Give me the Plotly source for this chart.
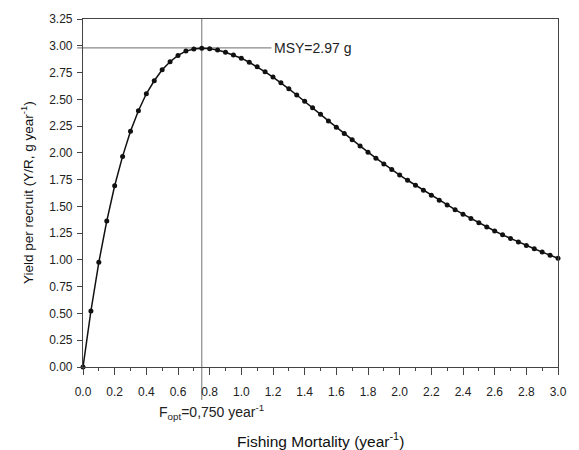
import plotly.graph_objects as go

# Fishing mortality (year^-1)
F = [0.00, 0.05, 0.10, 0.15, 0.20, 0.25, 0.30, 0.35, 0.40, 0.45,
     0.50, 0.55, 0.60, 0.65, 0.70, 0.75, 0.80, 0.85, 0.90, 0.95,
     1.00, 1.05, 1.10, 1.15, 1.20, 1.25, 1.30, 1.35, 1.40, 1.45,
     1.50, 1.55, 1.60, 1.65, 1.70, 1.75, 1.80, 1.85, 1.90, 1.95,
     2.00, 2.05, 2.10, 2.15, 2.20, 2.25, 2.30, 2.35, 2.40, 2.45,
     2.50, 2.55, 2.60, 2.65, 2.70, 2.75, 2.80, 2.85, 2.90, 2.95, 3.00]

# Yield per recruit (g year^-1)
YR = [0.000, 0.523, 0.978, 1.363, 1.693, 1.967, 2.201, 2.393, 2.552, 2.673,
      2.776, 2.851, 2.910, 2.950, 2.969, 2.976, 2.972, 2.960, 2.939, 2.913,
      2.884, 2.846, 2.803, 2.757, 2.708, 2.655, 2.598, 2.540, 2.482, 2.420,
      2.360, 2.298, 2.238, 2.180, 2.122, 2.064, 2.006, 1.950, 1.896, 1.844,
      1.793, 1.744, 1.697, 1.650, 1.604, 1.558, 1.513, 1.469, 1.427, 1.386,
      1.346, 1.307, 1.270, 1.234, 1.200, 1.167, 1.135, 1.104, 1.073, 1.044, 1.016]

F_OPT = 0.75
MSY_LINE = 2.98
MSY_LABEL = "MSY=2.97 g"
FOPT_LABEL = "F<sub>opt</sub>=0,750 year<sup>-1</sup>"
X_TITLE = "Fishing Mortality (year<sup>-1</sup>)"
Y_TITLE = "Yield per recruit (Y/R, g year<sup>-1</sup>)"

FONT = "Liberation Sans, Arial, sans-serif"

fig = go.Figure()
fig.add_trace(go.Scatter(
    x=F, y=YR, mode="lines+markers",
    line=dict(color="#111111", width=1.5),
    marker=dict(color="#111111", size=5),
    cliponaxis=False, showlegend=False,
))

W, H = 579, 450
L, R, T, B = 83, 12, 19, 83
pw = W - L - R
ph = H - T - B

# reference lines
fig.add_shape(type="line", xref="x", yref="paper",
              x0=F_OPT, x1=F_OPT, y0=-(400 - 367) / ph, y1=1,
              line=dict(color="#8a8a8a", width=1.2), layer="below")
fig.add_shape(type="line", xref="paper", yref="y",
              x0=-6 / pw, x1=(275 - L) / pw, y0=MSY_LINE, y1=MSY_LINE,
              line=dict(color="#8a8a8a", width=1.2), layer="below")

fig.add_annotation(xref="paper", yref="y", x=(276 - L) / pw, y=MSY_LINE,
                   text=MSY_LABEL, showarrow=False, xanchor="left", yanchor="middle",
                   font=dict(family=FONT, size=14, color="#222"))
fig.add_annotation(xref="x", yref="paper", x=F_OPT, y=0, xshift=10, yshift=-(412 - 367),
                   text=FOPT_LABEL, showarrow=False, xanchor="center", yanchor="middle",
                   font=dict(family=FONT, size=14, color="#222"))
fig.add_annotation(xref="paper", yref="paper", x=0.5, y=0, yshift=-(440 - 367),
                   text=X_TITLE, showarrow=False, xanchor="center", yanchor="middle",
                   font=dict(family=FONT, size=15.5, color="#111"))
fig.add_annotation(xref="paper", yref="paper", x=0, y=0.5, xshift=-(L - 27),
                   text=Y_TITLE, showarrow=False, textangle=-90,
                   xanchor="center", yanchor="middle",
                   font=dict(family=FONT, size=13.5, color="#111"))

fig.update_xaxes(
    range=[0, 3.0], dtick=0.2, tick0=0, tickformat=".1f",
    showgrid=False, zeroline=False,
    showline=True, linecolor="#444", linewidth=1.2, mirror=True,
    ticks="outside", ticklen=7, tickcolor="#444", tickwidth=1.2,
    ticklabelstandoff=6,
    minor=dict(dtick=0.1, ticks="outside", ticklen=3, tickcolor="#444", showgrid=False),
    tickfont=dict(family=FONT, size=12, color="#222"),
)
fig.update_yaxes(
    range=[0, 3.25], dtick=0.25, tick0=0, tickformat=".2f",
    showgrid=False, zeroline=False,
    showline=True, linecolor="#444", linewidth=1.2, mirror=True,
    ticks="outside", ticklen=5, tickcolor="#444", tickwidth=1.2,
    ticklabelstandoff=2,
    tickfont=dict(family=FONT, size=12, color="#222"),
)

fig.update_layout(
    width=W, height=H,
    margin=dict(l=L, r=R, t=T, b=B),
    paper_bgcolor="white", plot_bgcolor="white",
    font=dict(family=FONT),
)

fig.write_html("out.html", config={"displayModeBar": False},
               post_script="document.body.style.margin='0px';document.body.style.overflow='hidden';")
